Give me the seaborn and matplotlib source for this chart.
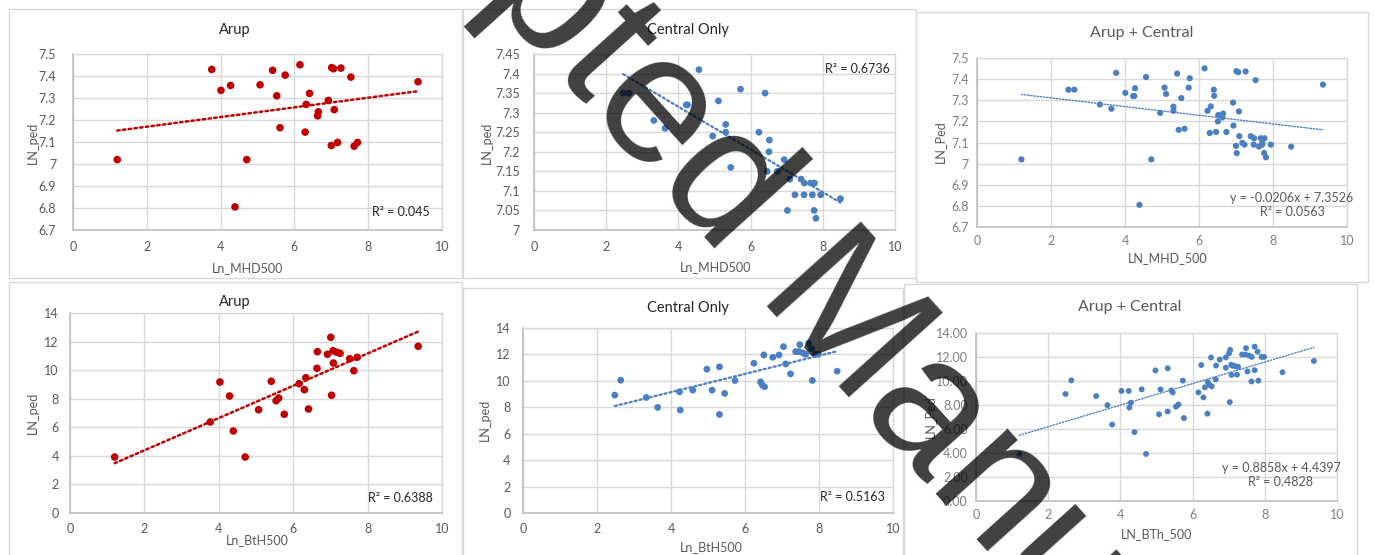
import numpy as np
import matplotlib
matplotlib.use("Agg")
import matplotlib.pyplot as plt
import seaborn as sns
from matplotlib.patches import Rectangle
from matplotlib.ticker import MultipleLocator, FuncFormatter

# ---------------- data ----------------
arup_mhd_x = [1.20, 3.76, 4.01, 4.27, 4.39, 4.71, 5.07, 5.41, 5.52, 5.61, 5.75, 6.15, 6.29, 6.32,
              6.41, 6.63, 6.65, 6.92, 7.00, 7.01, 7.06, 7.08, 7.17, 7.26, 7.53, 7.62, 7.71, 9.35]
arup_mhd_y = [7.02, 7.43, 7.335, 7.357, 6.805, 7.02, 7.36, 7.426, 7.31, 7.165, 7.404, 7.451, 7.145, 7.271,
              7.321, 7.219, 7.237, 7.289, 7.084, 7.438, 7.433, 7.247, 7.098, 7.436, 7.395, 7.081, 7.098, 7.374]

central_mhd_x = [2.47, 2.63, 3.32, 3.63, 4.22, 4.25, 4.57, 4.95, 5.11, 5.31, 5.31, 5.45, 5.72, 6.23,
                 6.40, 6.46, 6.51, 6.52, 6.74, 6.93, 7.02, 7.09, 7.23, 7.40, 7.48, 7.49, 7.67, 7.71,
                 7.77, 7.76, 7.81, 7.94, 8.49]
central_mhd_y = [7.35, 7.35, 7.28, 7.26, 7.32, 7.32, 7.41, 7.24, 7.33, 7.27, 7.25, 7.16, 7.36, 7.25,
                 7.35, 7.15, 7.20, 7.23, 7.15, 7.18, 7.05, 7.13, 7.09, 7.13, 7.09, 7.12, 7.12, 7.09,
                 7.12, 7.05, 7.03, 7.09, 7.08]

arup_bth_x = [1.20, 3.77, 4.03, 4.29, 4.39, 4.71, 5.07, 5.41, 5.54, 5.61, 5.76, 6.16, 6.30, 6.34,
              6.41, 6.64, 6.65, 6.92, 7.01, 7.03, 7.07, 7.08, 7.17, 7.26, 7.52, 7.63, 7.72, 9.36]
arup_bth_y = [3.92, 6.37, 9.17, 8.19, 5.74, 3.92, 7.23, 9.22, 7.86, 8.05, 6.91, 9.05, 8.63, 9.47,
              7.28, 10.13, 11.29, 11.11, 12.30, 8.24, 11.36, 10.50, 11.25, 11.18, 10.80, 9.96, 10.90, 11.67]

central_bth_x = [2.48, 2.64, 3.33, 3.64, 4.23, 4.25, 4.59, 4.97, 5.11, 5.31, 5.31, 5.45, 5.73, 6.24,
                 6.42, 6.47, 6.53, 6.51, 6.75, 6.92, 7.04, 7.10, 7.23, 7.37, 7.46, 7.48, 7.57, 7.64,
                 7.72, 7.80, 7.82, 7.91, 7.98, 8.49]
central_bth_y = [8.92, 10.05, 8.74, 7.99, 9.17, 7.79, 9.30, 10.88, 9.30, 11.06, 7.46, 9.05, 10.03, 11.33,
                 9.92, 9.67, 9.55, 11.96, 11.78, 11.96, 12.59, 11.28, 10.53, 12.21, 12.21, 12.74, 12.11, 12.01,
                 12.86, 12.44, 10.03, 12.01, 12.01, 10.73]

titles = ["Arup", "Central Only", "Arup + Central", "Arup", "Central Only", "Arup + Central"]
xlabels = ["Ln_MHD500", "Ln_MHD500", "LN_MHD_500", "Ln_BtH500", "Ln_BtH500", "LN_BTh_500"]
ylabels = ["LN_ped", "LN_ped", "LN_Ped", "LN_ped", "LN_ped", "LN_Ped"]
stats = [["R² = 0.045"], ["R² = 0.6736"], ["y = -0.0206x + 7.3526", "R² = 0.0563"],
         ["R² = 0.6388"], ["R² = 0.5163"], ["y = 0.8858x + 4.4397", "R² = 0.4828"]]
watermark = "Accepted Manuscript"

# ---------------- style ----------------
sns.set_theme(style="white")
plt.rcParams["font.family"] = ["Lato", "DejaVu Sans"]

RED = "#c00000"
BLUE = "#4a7fc1"
W, H = 1374, 555
fig = plt.figure(figsize=(W / 100, H / 100), dpi=100)
fig.patch.set_facecolor("white")


def fx(px):
    return px / W


def fy(py):
    return 1 - py / H


panels = [
    dict(x=arup_mhd_x, y=arup_mhd_y, color=RED, box=(9, 9, 462, 278), ax=(73, 442, 54, 230),
         ylim=(6.7, 7.5), ystep=0.1, fmt="g", s=30, lw=1.8, ypad=12, xpad=8,
         title=(235, 30), tsize=10.5, tcolor="#262626", xl=(248, 268), yl=(33, 143),
         st=(430, 212, "right"), tickc="#595959"),
    dict(x=central_mhd_x, y=central_mhd_y, color=BLUE, box=(463, 9, 916, 278), ax=(534, 895, 54, 230),
         ylim=(7.0, 7.45), ystep=0.05, fmt="g", s=24, lw=1.6, ypad=10, xpad=8,
         title=(688, 30), tsize=10.5, tcolor="#262626", xl=(716, 267), yl=(487, 143),
         st=(890, 69, "right"), tickc="#595959"),
    dict(x=arup_mhd_x + central_mhd_x, y=arup_mhd_y + central_mhd_y, color=BLUE,
         box=(916, 12, 1368, 282), ax=(977, 1347, 58, 227),
         ylim=(6.7, 7.5), ystep=0.1, fmt="g", s=20, lw=1.0, ypad=6, xpad=6,
         title=(1142, 33), tsize=11.5, tcolor="#595959", xl=(1168, 258), yl=(940, 142),
         st=(1292, 198, "center"), tickc="#7f7f7f"),
    dict(x=arup_bth_x, y=arup_bth_y, color=RED, box=(9, 282, 462, 560), ax=(70, 442, 313, 513),
         ylim=(0, 14), ystep=2, fmt="g", s=30, lw=1.8, ypad=8, xpad=7,
         title=(235, 302), tsize=10.5, tcolor="#262626", xl=(257, 540), yl=(33, 413),
         st=(433, 498, "right"), tickc="#595959"),
    dict(x=central_bth_x, y=central_bth_y, color=BLUE, box=(463, 288, 903, 560), ax=(523, 893, 328, 513),
         ylim=(0, 14), ystep=2, fmt="g", s=24, lw=1.6, ypad=9, xpad=7,
         title=(688, 308), tsize=10.5, tcolor="#262626", xl=(711, 547), yl=(485, 420),
         st=(885, 497, "right"), tickc="#595959"),
    dict(x=arup_bth_x + central_bth_x, y=arup_bth_y + central_bth_y, color=BLUE,
         box=(904, 284, 1357, 560), ax=(976, 1337, 333, 501),
         ylim=(0, 14), ystep=2, fmt=".2f", s=18, lw=1.0, ypad=6, xpad=6,
         title=(1130, 307), tsize=11.5, tcolor="#595959", xl=(1157, 534), yl=(930, 417),
         st=(1281, 468, "center"), tickc="#7f7f7f"),
]

for i, p in enumerate(panels):
    bx0, by0, bx1, by1 = p["box"]
    fig.patches.append(Rectangle((fx(bx0), fy(by1)), fx(bx1 - bx0), (by1 - by0) / H,
                                 transform=fig.transFigure, facecolor="white",
                                 edgecolor="#d9d9d9", lw=1.0, zorder=-1 + i * 0.01))
    x0, x1, yt, yb = p["ax"]
    ax = fig.add_axes([fx(x0), fy(yb), fx(x1 - x0), (yb - yt) / H])
    ax.set_facecolor("none")
    sns.regplot(x=np.array(p["x"]), y=np.array(p["y"]), ax=ax, ci=None, truncate=True,
                color=p["color"],
                scatter_kws=dict(s=p["s"], edgecolor="none", linewidths=0, alpha=1, zorder=3),
                line_kws=dict(color=p["color"], lw=p["lw"], ls=(0, (1, 1.3)),
                              dash_capstyle="round", zorder=4))
    ax.set_xlim(0, 10)
    ax.set_ylim(*p["ylim"])
    ax.xaxis.set_major_locator(MultipleLocator(2))
    ax.yaxis.set_major_locator(MultipleLocator(p["ystep"]))
    f = p["fmt"]
    ax.yaxis.set_major_formatter(FuncFormatter(lambda v, pos, f=f: format(round(v, 4), f)))
    ax.xaxis.set_major_formatter(FuncFormatter(lambda v, pos: format(round(v, 4), "g")))
    ax.grid(True, color="#d9d9d9", lw=1.0)
    ax.set_axisbelow(True)
    for side in ["top", "right"]:
        ax.spines[side].set_color("#d9d9d9")
        ax.spines[side].set_linewidth(1.0)
    for side in ["left", "bottom"]:
        ax.spines[side].set_color("#bfbfbf")
        ax.spines[side].set_linewidth(1.2)
    ax.tick_params(axis="both", length=0, labelsize=9, colors=p["tickc"])
    ax.tick_params(axis="y", pad=p["ypad"])
    ax.tick_params(axis="x", pad=p["xpad"])
    ax.set_xlabel("")
    ax.set_ylabel("")

    tx, ty = p["title"]
    fig.text(fx(tx), fy(ty), titles[i], ha="center", va="center",
             fontsize=p["tsize"], color=p["tcolor"])
    lx, ly = p["xl"]
    fig.text(fx(lx), fy(ly), xlabels[i], ha="center", va="center", fontsize=9, color="#595959")
    yx, yy = p["yl"]
    fig.text(fx(yx), fy(yy), ylabels[i], ha="center", va="center", rotation=90,
             fontsize=9, color="#595959")
    sx, sy, sha = p["st"]
    for k, line in enumerate(stats[i]):
        fig.text(fx(sx), fy(sy + 14 * k), line, ha=sha, va="center", fontsize=9,
                 color="#262626" if len(stats[i]) == 1 else "#595959")

# watermark
fig.text(fx(210), fy(-311), watermark, rotation=-48, rotation_mode="anchor",
         ha="left", va="baseline", fontsize=132, color="black", alpha=0.75,
         family="Liberation Sans", zorder=20)

fig.savefig("out.png", dpi=100)
